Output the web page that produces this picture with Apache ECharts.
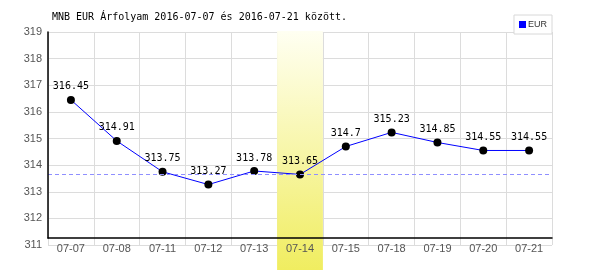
<!DOCTYPE html>
<html><head><meta charset="utf-8">
<script src="https://cdn.jsdelivr.net/npm/echarts@6/dist/echarts.min.js"></script>
<style>html,body{margin:0;padding:0;background:#fff}#c{width:600px;height:270px}</style>
</head><body><div id="c"></div>
<script>
const categories = ['07-07','07-08','07-11','07-12','07-13','07-14','07-15','07-18','07-19','07-20','07-21'];
const eurValues = [316.45,314.91,313.75,313.27,313.78,313.65,314.7,315.23,314.85,314.55,314.55];
const highlightCategory = '07-14';
const yMin = 311, yMax = 319, yInterval = 1;
const seriesName = 'EUR';
const titleText = 'MNB EUR Árfolyam 2016-07-07 és 2016-07-21 között.';

const hiIdx = categories.indexOf(highlightCategory);
const hiVal = eurValues[hiIdx];
const bandData = categories.map((c, i) => i === hiIdx ? 1 : '-');

const labelFont = 'Liberation Sans';
const monoFont = 'DejaVu Sans Mono';

const chart = echarts.init(document.getElementById('c'), null, {renderer: 'canvas'});
chart.setOption({
  animation: false,
  title: {
    text: titleText, left: 52, top: 12, padding: 0,
    textStyle: {fontFamily: monoFont, fontSize: 10, fontWeight: 'normal', color: '#000'}
  },
  legend: {
    right: 48, top: 15, orient: 'horizontal',
    backgroundColor: '#fff', borderColor: '#d8d8d8', borderWidth: 1,
    padding: [5, 5, 5, 5], itemWidth: 7, itemHeight: 7, icon: 'rect',
    textStyle: {fontFamily: labelFont, fontSize: 9, color: '#333', padding: [0, 0, 0, -3]},
    data: [{name: seriesName, itemStyle: {color: '#0000ff', borderWidth: 0}}],
    z: 10
  },
  grid: [
    {left: 48, right: 48, top: 32, bottom: 25},
    {left: 48, right: 48, top: 31, bottom: 0},
    {left: 48, right: 48, top: 32, bottom: 32}
  ],
  xAxis: [
    {gridIndex: 0, type: 'category', data: categories, boundaryGap: true,
     axisLine: {show: false}, axisTick: {show: false}, axisLabel: {show: false},
     splitLine: {show: true, interval: 0, lineStyle: {color: '#dcdcdc', width: 1}}},
    {gridIndex: 1, type: 'category', data: categories, boundaryGap: true, show: false},
    {gridIndex: 2, type: 'category', data: categories, boundaryGap: true, z: 5,
     axisLine: {show: true, lineStyle: {color: '#000', width: 1.5}},
     axisTick: {show: false}, splitLine: {show: false},
     axisLabel: {interval: 0, margin: 5, color: '#555', fontSize: 11, fontFamily: labelFont}}
  ],
  yAxis: [
    {gridIndex: 0, type: 'value', min: yMin, max: yMax, interval: yInterval,
     axisLine: {show: false}, axisTick: {show: false},
     axisLabel: {margin: 6, color: '#555', fontSize: 11, fontFamily: labelFont},
     splitLine: {show: true, lineStyle: {color: '#dcdcdc', width: 1}}},
    {gridIndex: 1, type: 'value', min: 0, max: 1, show: false},
    {gridIndex: 2, type: 'value', min: 0, max: 1, z: 5,
     axisLine: {show: true, lineStyle: {color: '#000', width: 1.5}},
     axisTick: {show: false}, axisLabel: {show: false}, splitLine: {show: false}}
  ],
  series: [
    {
      name: 'ref', type: 'line', xAxisIndex: 0, yAxisIndex: 0, data: [],
      symbol: 'none', silent: true, z: 1,
      markLine: {
        silent: true, symbol: 'none', label: {show: false},
        lineStyle: {color: '#8f8fff', type: [4, 3], width: 1},
        data: [{yAxis: hiVal}]
      }
    },
    {
      name: 'band', type: 'bar', xAxisIndex: 1, yAxisIndex: 1, data: bandData,
      barWidth: '100%', silent: true, z: 2,
      itemStyle: {color: new echarts.graphic.LinearGradient(0, 0, 0, 1, [
        {offset: 0, color: '#fffff2'}, {offset: 1, color: '#f0ed60'}
      ])}
    },
    {
      name: seriesName, type: 'line', xAxisIndex: 0, yAxisIndex: 0, data: eurValues,
      color: '#0000ff', lineStyle: {color: '#0000ff', width: 1},
      symbol: 'circle', symbolSize: 8, itemStyle: {color: '#000'},
      z: 3,
      label: {show: true, position: 'top', distance: 4, color: '#000',
              fontFamily: monoFont, fontSize: 10}
    }
  ]
});
</script></body></html>
